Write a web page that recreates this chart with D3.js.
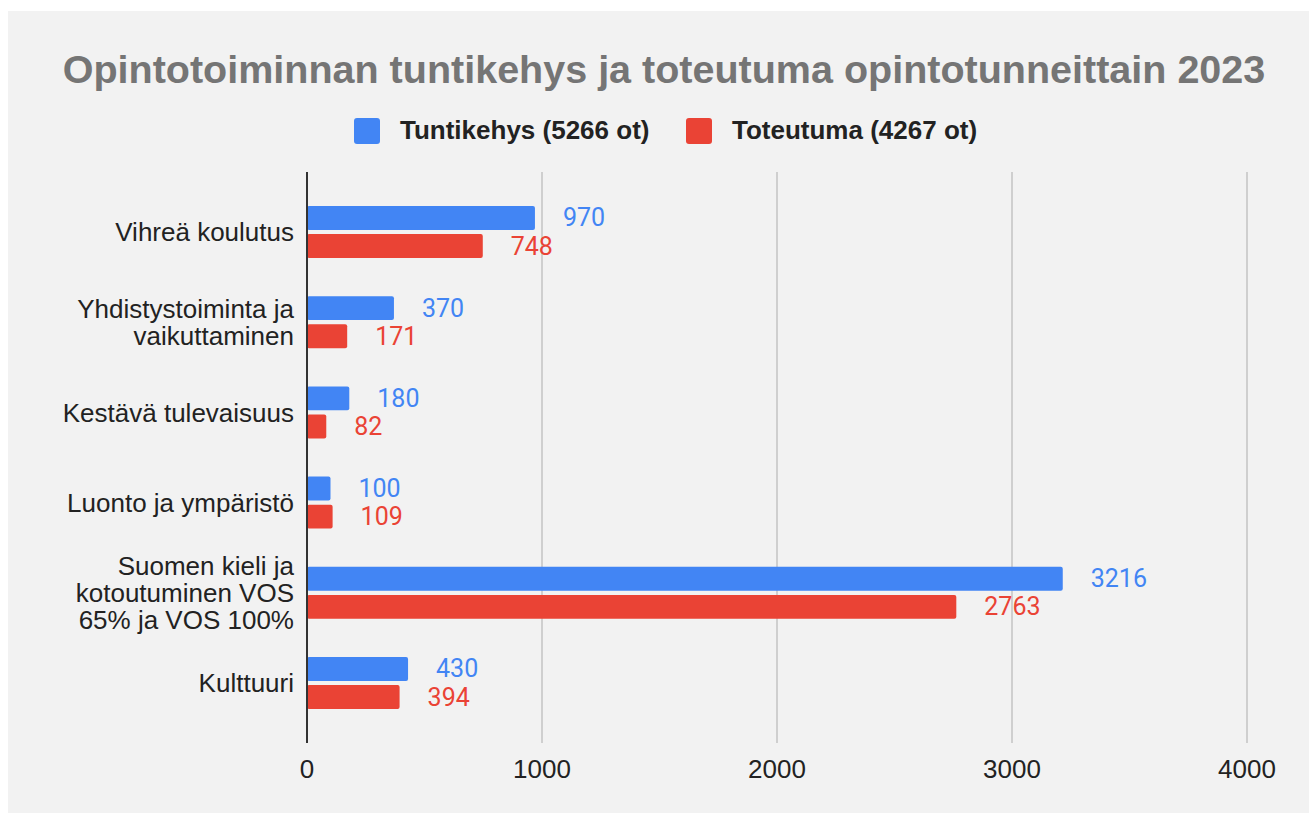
<!DOCTYPE html>
<html>
<head>
<meta charset="utf-8">
<script src="https://cdn.jsdelivr.net/npm/d3@7"></script>
<style>
  body { margin: 0; background: #fff; }
  text { font-family: Arial, "Liberation Sans", sans-serif; }
</style>
</head>
<body>
<div class="chart"></div>
<script>
var categories = [
    ["Vihreä koulutus"],
    ["Yhdistystoiminta ja", "vaikuttaminen"],
    ["Kestävä tulevaisuus"],
    ["Luonto ja ympäristö"],
    ["Suomen kieli ja", "kotoutuminen VOS", "65% ja VOS 100%"],
    ["Kulttuuri"]
];
var seriesNames = ["Tuntikehys (5266 ot)", "Toteutuma (4267 ot)"];
var tuntikehys = [970, 370, 180, 100, 3216, 430];
var toteutuma = [748, 171, 82, 109, 2763, 394];
var xTicks = [0, 1000, 2000, 3000, 4000];
var colors = ["#4285f4", "#ea4335"];

var svgWidth = 1309;
var svgHeight = 814;
var margin = {top: 172, right: 62, bottom: 71, left: 307};
var width = svgWidth - margin.left - margin.right;
var height = svgHeight - margin.top - margin.bottom;

var svg = d3.select(".chart")
    .append("svg")
    .attr("width", svgWidth)
    .attr("height", svgHeight);

// panel background
svg.append("rect")
    .attr("x", 8).attr("y", 11)
    .attr("width", svgWidth - 8).attr("height", svgHeight - 12)
    .attr("fill", "#f2f2f2");

svg.append("text")
    .attr("x", 664)
    .attr("y", 83)
    .attr("text-anchor", "middle")
    .attr("font-size", "39.5px")
    .attr("font-weight", "bold")
    .attr("fill", "#757575")
    .text("Opintotoiminnan tuntikehys ja toteutuma opintotunneittain 2023");

// legend
var legendX = [354, 686];
var legend = svg.selectAll(".legend")
    .data(seriesNames)
    .enter()
    .append("g")
    .attr("class", "legend")
    .attr("transform", function(d, i) { return "translate(" + legendX[i] + ",118)"; });
legend.append("rect")
    .attr("width", 26).attr("height", 26)
    .attr("rx", 3)
    .attr("fill", function(d, i) { return colors[i]; });
legend.append("text")
    .attr("x", 46)
    .attr("y", 21)
    .attr("font-size", "26px")
    .attr("font-weight", "bold")
    .attr("fill", "#222")
    .text(function(d) { return d; });

var chartGroup = svg.append("g")
    .attr("transform", "translate(" + margin.left + "," + margin.top + ")");

var xLinearScale = d3.scaleLinear().domain([0, 4000]).range([0, width]);
var yBandScale = d3.scaleBand()
    .domain(d3.range(categories.length))
    .range([0, height])
    .paddingInner(0)
    .paddingOuter(0.165);
var subScale = d3.scaleBand()
    .domain([0, 1])
    .range([-26, 26])
    .paddingInner(0.15);

// gridlines
chartGroup.selectAll(".grid")
    .data(xTicks.slice(1))
    .enter()
    .append("line")
    .attr("x1", function(d) { return xLinearScale(d); })
    .attr("x2", function(d) { return xLinearScale(d); })
    .attr("y1", 0)
    .attr("y2", height)
    .attr("stroke", "#c6c6c6")
    .attr("stroke-width", 1.6);

// x tick labels
chartGroup.selectAll(".tick-label")
    .data(xTicks)
    .enter()
    .append("text")
    .attr("x", function(d) { return xLinearScale(d); })
    .attr("y", height + 35)
    .attr("text-anchor", "middle")
    .attr("font-size", "26px")
    .attr("fill", "#222")
    .text(function(d) { return d; });

var rows = categories.map(function(c, i) {
    return {label: c, values: [tuntikehys[i], toteutuma[i]], index: i};
});

var groups = chartGroup.selectAll(".group")
    .data(rows)
    .enter()
    .append("g")
    .attr("transform", function(d) {
        return "translate(0," + (yBandScale(d.index) + yBandScale.bandwidth() / 2) + ")";
    });

groups.selectAll("rect")
    .data(function(d) { return d.values; })
    .enter()
    .append("rect")
    .attr("x", 0)
    .attr("y", function(d, i) { return subScale(i); })
    .attr("width", function(d) { return xLinearScale(d); })
    .attr("height", subScale.bandwidth())
    .attr("rx", 2)
    .attr("fill", function(d, i) { return colors[i]; });

groups.selectAll(".value")
    .data(function(d) { return d.values; })
    .enter()
    .append("text")
    .attr("x", function(d) { return xLinearScale(d) + 28; })
    .attr("y", function(d, i) { return subScale(i) + subScale.bandwidth() / 2; })
    .attr("dy", "0.34em")
    .attr("font-size", "25px")
    .style("font-family", "Roboto, sans-serif")
    .attr("fill", function(d, i) { return colors[i]; })
    .text(function(d) { return d; });

// category labels
groups.append("text")
    .attr("x", -13)
    .attr("text-anchor", "end")
    .attr("font-size", "26px")
    .attr("fill", "#222")
    .each(function(d) {
        var n = d.label.length;
        var t = d3.select(this);
        d.label.forEach(function(line, j) {
            t.append("tspan")
                .attr("x", -13)
                .attr("y", (j - (n - 1) / 2) * 27)
                .attr("dy", "0.35em")
                .text(line);
        });
    });

// zero axis line
chartGroup.append("line")
    .attr("x1", 0).attr("x2", 0)
    .attr("y1", 0).attr("y2", height)
    .attr("stroke", "#333")
    .attr("stroke-width", 2);
</script>
</body>
</html>
